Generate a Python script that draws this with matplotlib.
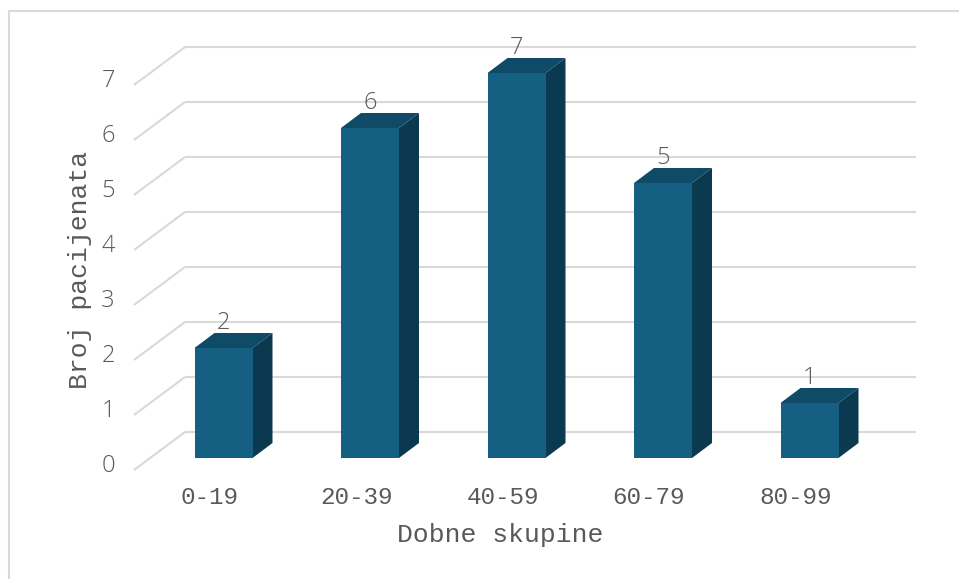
import matplotlib
matplotlib.use("Agg")
import matplotlib.pyplot as plt
from matplotlib.patches import Polygon

categories = ["0-19", "20-39", "40-59", "60-79", "80-99"]
values = [2, 6, 7, 5, 1]
yticks = [0, 1, 2, 3, 4, 5, 6, 7]
xlabel = "Dobne skupine"
ylabel = "Broj pacijenata"

W, H = 959, 579
fig = plt.figure(figsize=(W / 100, H / 100), dpi=100)
ax = fig.add_axes([0, 0, 1, 1])
ax.set_axis_off()

# pixel mapping -> data units
px_x0, px_step = 223.5, 146.5
py_0, py_unit = 458.0, 55.0
ax.set_xlim((0 - px_x0) / px_step, (W - px_x0) / px_step)
ax.set_ylim((py_0 - H) / py_unit, py_0 / py_unit)

ux = 1 / px_step   # one pixel in x data units
uy = 1 / py_unit   # one pixel in y data units

front_c = "#156082"
top_c = "#0F4A66"
side_c = "#0B3A50"
grid_c = "#D9D9D9"
text_c = "#595959"

mono = "Liberation Mono"
sans = ["Open Sans", "DejaVu Sans"]

# walls / gridlines
back_dy = 26 * uy
front_dy = -12 * uy
wall_left = -38.5 * ux
wall_front_x = -89.5 * ux
for t in yticks:
    yb = t + back_dy
    yf = t + front_dy
    ax.plot([wall_left, (916 - px_x0) * ux], [yb, yb], color=grid_c, lw=1.5,
            solid_capstyle="butt", zorder=1)
    ax.plot([wall_front_x, wall_left], [yf, yb], color=grid_c, lw=1.5,
            solid_capstyle="butt", zorder=1)
    ax.text(wall_front_x - 26 * ux, yf + 4 * uy, str(t), ha="center", va="center",
            fontsize=17, color=text_c, family=sans, fontweight="light")

# bars
hw = 29 * ux
dx = 20 * ux
dy = 15 * uy
for i, v in enumerate(values):
    xl, xr = i - hw, i + hw
    side = Polygon([(xr, 0), (xr + dx, dy), (xr + dx, v + dy), (xr, v)],
                   closed=True, fc=side_c, ec="none", zorder=3)
    top = Polygon([(xl, v), (xr, v), (xr + dx, v + dy), (xl + dx, v + dy)],
                  closed=True, fc=top_c, ec="none", zorder=3)
    front = Polygon([(xl, 0), (xr, 0), (xr, v), (xl, v)],
                    closed=True, fc=front_c, ec="none", zorder=4)
    for p in (side, top, front):
        ax.add_patch(p)
    ax.text(i, v + dy + 10 * uy, str(v), ha="center", va="center",
            fontsize=17, color=text_c, family=sans, fontweight="light", zorder=5)
    ax.text(i - 14 * ux, -39 * uy, categories[i], ha="center", va="center",
            fontsize=17.5, color=text_c, family=mono)

ax.text((500 - px_x0) * ux, (py_0 - 535) * uy, xlabel, ha="center", va="center",
        fontsize=19, color=text_c, family=mono)
ax.text((80 - px_x0) * ux, (py_0 - 270) * uy, ylabel, ha="center", va="center",
        fontsize=19, color=text_c, family=mono, rotation=90)

# chart border
ax.plot([(8.5 - px_x0) * ux, (8.5 - px_x0) * ux, (958 - px_x0) * ux],
        [(py_0 - 579) * uy, (py_0 - 10.5) * uy, (py_0 - 10.5) * uy],
        color="#D9D9D9", lw=1.5, zorder=0)

fig.savefig("out.png", dpi=100)
